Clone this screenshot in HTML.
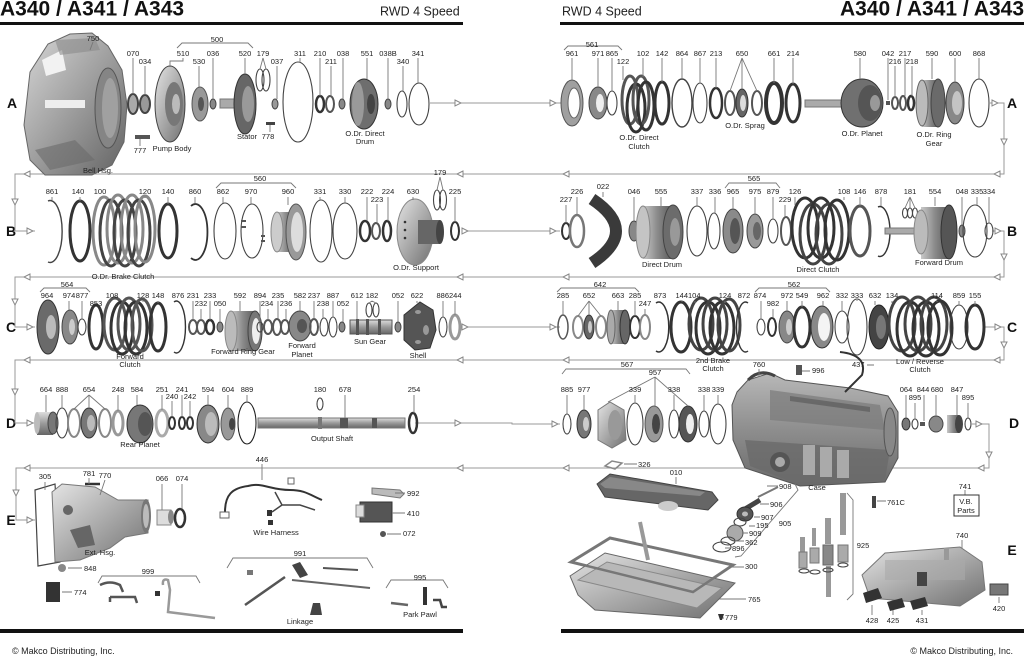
<!DOCTYPE html>
<html><head><meta charset="utf-8"><style>
html,body{margin:0;padding:0;background:#fff;}
svg{display:block;}
text{font-family:"Liberation Sans",Arial,sans-serif;fill:#222;}
.n{font-size:7.5px;text-anchor:middle;}
.s{font-size:7.5px;text-anchor:start;}
.L{font-size:14px;font-weight:bold;fill:#111;text-anchor:middle;}
.r{fill:none;stroke:#444;stroke-width:1.1;}
.r2{fill:none;stroke:#555;stroke-width:2;}
.d{fill:none;stroke:#333;stroke-width:3;}
.g{fill:none;stroke:#888;stroke-width:3;}
.ld{stroke:#777;stroke-width:0.9;fill:none;}
.fl{stroke:#999;stroke-width:1;fill:none;}
.ar{fill:#fff;stroke:#888;stroke-width:1;}
</style></head><body>
<svg width="1024" height="657" viewBox="0 0 1024 657">
<defs>
<linearGradient id="met" x1="0" y1="0" x2="1" y2="1"><stop offset="0" stop-color="#e4e4e4"/><stop offset=".5" stop-color="#aaa"/><stop offset="1" stop-color="#707070"/></linearGradient>
<linearGradient id="metb" x1="0" y1="0" x2="1" y2="1"><stop offset="0" stop-color="#d8d8d8"/><stop offset=".45" stop-color="#a4a4a4"/><stop offset="1" stop-color="#626262"/></linearGradient>
<linearGradient id="metc" x1="0" y1="0" x2="0" y2="1"><stop offset="0" stop-color="#b8b8b8"/><stop offset=".5" stop-color="#8e8e8e"/><stop offset="1" stop-color="#6a6a6a"/></linearGradient>
<linearGradient id="metv" x1="0" y1="0" x2="0" y2="1"><stop offset="0" stop-color="#ddd"/><stop offset=".5" stop-color="#9a9a9a"/><stop offset="1" stop-color="#666"/></linearGradient>
<linearGradient id="meth" x1="0" y1="0" x2="1" y2="0"><stop offset="0" stop-color="#c8c8c8"/><stop offset=".5" stop-color="#8a8a8a"/><stop offset="1" stop-color="#5a5a5a"/></linearGradient>
</defs>

<!-- HEADER / FOOTER -->
<text x="0" y="15.5" style="font-size:21px;font-weight:bold;fill:#111">A340 / A341 / A343</text>
<text x="380" y="15.5" style="font-size:12.5px">RWD 4 Speed</text>
<rect x="0" y="22" width="463" height="3" fill="#111"/>
<text x="562" y="15.5" style="font-size:12.5px">RWD 4 Speed</text>
<text x="1024" y="15.5" style="font-size:21px;font-weight:bold;fill:#111;text-anchor:end">A340 / A341 / A343</text>
<rect x="560" y="22" width="464" height="3" fill="#111"/>
<rect x="0" y="629" width="463" height="4" fill="#111"/>
<rect x="561" y="629" width="463" height="4" fill="#111"/>
<text x="12" y="654" style="font-size:9px">© Makco Distributing, Inc.</text>
<text x="1013" y="654" style="font-size:9px;text-anchor:end">© Makco Distributing, Inc.</text>

<!-- ROW LETTERS -->
<text class="L" x="12" y="108">A</text>
<text class="L" x="1012" y="108">A</text>
<text class="L" x="11" y="236">B</text>
<text class="L" x="1012" y="236">B</text>
<text class="L" x="11" y="332">C</text>
<text class="L" x="1012" y="332">C</text>
<text class="L" x="11" y="428">D</text>
<text class="L" x="1014" y="428">D</text>
<text class="L" x="11" y="525">E</text>
<text class="L" x="1012" y="555">E</text>

<!-- FLOW LINES -->
<path class="fl" d="M430,103H562 M990,103H1004V174H15V231H35 M462,231H560 M992,231H1004V277H15V327H35 M460,327H560 M985,327H1004V360H15V423H35 M415,423H512V424H560 M972,424H989V468H16V520H35"/>
<polygon class="ar" points="455,100 461,103 455,106"/>
<polygon class="ar" points="550,100 556,103 550,106"/>
<polygon class="ar" points="992,100 998,103 992,106"/>
<polygon class="ar" points="1001,139 1004,145 1007,139"/>
<polygon class="ar" points="1000,171 994,174 1000,177"/>
<polygon class="ar" points="569,171 563,174 569,177"/>
<polygon class="ar" points="463,171 457,174 463,177"/>
<polygon class="ar" points="30,171 24,174 30,177"/>
<polygon class="ar" points="12,199 15,205 18,199"/>
<polygon class="ar" points="27,228 33,231 27,234"/>
<polygon class="ar" points="462,228 468,231 462,234"/>
<polygon class="ar" points="550,228 556,231 550,234"/>
<polygon class="ar" points="995,228 1001,231 995,234"/>
<polygon class="ar" points="1001,254 1004,260 1007,254"/>
<polygon class="ar" points="1000,274 994,277 1000,280"/>
<polygon class="ar" points="569,274 563,277 569,280"/>
<polygon class="ar" points="463,274 457,277 463,280"/>
<polygon class="ar" points="30,274 24,277 30,280"/>
<polygon class="ar" points="12,299 15,305 18,299"/>
<polygon class="ar" points="27,324 33,327 27,330"/>
<polygon class="ar" points="462,324 468,327 462,330"/>
<polygon class="ar" points="550,324 556,327 550,330"/>
<polygon class="ar" points="995,324 1001,327 995,330"/>
<polygon class="ar" points="1001,342 1004,348 1007,342"/>
<polygon class="ar" points="1000,357 994,360 1000,363"/>
<polygon class="ar" points="569,357 563,360 569,363"/>
<polygon class="ar" points="463,357 457,360 463,363"/>
<polygon class="ar" points="30,357 24,360 30,363"/>
<polygon class="ar" points="12,389 15,395 18,389"/>
<polygon class="ar" points="27,420 33,423 27,426"/>
<polygon class="ar" points="455,420 461,423 455,426"/>
<polygon class="ar" points="552,421 558,424 552,427"/>
<polygon class="ar" points="976,421 982,424 976,427"/>
<polygon class="ar" points="986,452 989,458 992,452"/>
<polygon class="ar" points="984,465 978,468 984,471"/>
<polygon class="ar" points="569,465 563,468 569,471"/>
<polygon class="ar" points="463,465 457,468 463,471"/>
<polygon class="ar" points="30,465 24,468 30,471"/>
<polygon class="ar" points="13,490 16,496 19,490"/>
<polygon class="ar" points="27,517 33,520 27,523"/>

<!-- ================= ROW A LEFT ================= -->
<path d="M30,72 L48,44 L70,34 L92,33 L108,46 L122,70 L127,105 L124,142 L112,165 L92,175 L45,175 L30,160 L24,125 Z" fill="url(#metb)" stroke="#666"/>
<ellipse cx="108" cy="108" rx="13" ry="40" fill="#858585" stroke="#555"/>
<ellipse cx="110" cy="108" rx="8" ry="30" fill="#a0a0a0"/>
<path d="M42,60 L62,50 L66,70 L46,76 Z" fill="#f2f2f2"/>
<rect x="45" y="100" width="40" height="8" fill="#eee"/>
<path d="M55,40 L95,38 L100,50 L60,55 Z" fill="#8a8a8a" opacity=".6"/>
<path d="M35,150 L75,140 L95,160 L50,170 Z" fill="#6a6a6a" opacity=".6"/>
<ellipse cx="133" cy="104" rx="5" ry="10" fill="#aaa" stroke="#444" stroke-width="2"/>
<ellipse cx="145" cy="104" rx="5" ry="9" fill="#999" stroke="#444" stroke-width="2"/>
<ellipse cx="170" cy="104" rx="15" ry="38" fill="url(#met)" stroke="#444"/>
<ellipse cx="174" cy="104" rx="9" ry="22" fill="#777"/>
<ellipse cx="176" cy="104" rx="4" ry="10" fill="#bbb"/>
<ellipse cx="200" cy="104" rx="8" ry="17" fill="#999" stroke="#555"/>
<ellipse cx="201" cy="104" rx="3" ry="7" fill="#555"/>
<ellipse cx="213" cy="104" rx="3" ry="5" fill="#888" stroke="#444"/>
<rect x="220" y="99" width="18" height="9" fill="#aaa" stroke="#777"/>
<ellipse cx="245" cy="104" rx="11" ry="30" fill="#666" stroke="#333"/>
<ellipse cx="248" cy="104" rx="6" ry="18" fill="#999"/>
<rect x="135" y="135" width="15" height="4" fill="#555"/>
<rect x="266" y="122" width="9" height="3" fill="#444"/>
<ellipse cx="260" cy="80" rx="4" ry="11" class="r"/>
<ellipse cx="266" cy="80" rx="4" ry="11" class="r"/>
<ellipse cx="275" cy="104" rx="3" ry="5" fill="#999" stroke="#444"/>
<ellipse cx="298" cy="102" rx="15" ry="40" class="r"/>
<ellipse cx="320" cy="104" rx="4" ry="8" class="d" style="stroke-width:2.5"/>
<ellipse cx="330" cy="104" rx="4" ry="8" class="r2"/>
<ellipse cx="342" cy="104" rx="3" ry="5" fill="#888" stroke="#444"/>
<ellipse cx="364" cy="104" rx="14" ry="25" fill="#6e6e6e" stroke="#333"/>
<ellipse cx="358" cy="104" rx="6" ry="22" fill="#9a9a9a"/>
<ellipse cx="371" cy="104" rx="4" ry="10" fill="#444"/>
<ellipse cx="388" cy="104" rx="3" ry="5" fill="#888" stroke="#444"/>
<ellipse cx="402" cy="104" rx="5" ry="13" class="r"/>
<ellipse cx="419" cy="104" rx="10" ry="21" class="r"/>

<path class="ld" d="M93,42L90,50 M177,48L182,43H248L253,48 M133,58V94 M145,66V95 M183,58V61H170V67 M199,66V87 M213,58V99 M245,58V74 M263,58L260,69 M263,58L266,69 M277,66V99 M300,58V62 M320,58V96 M331,66V96 M343,58V99 M367,58V79 M388,58V99 M403,66V91 M418,58V83 M140,146V139 M270,132V125"/>
<text class="n" x="93" y="41">750</text>
<text class="n" x="217" y="42">500</text>
<text class="n" x="133" y="56">070</text>
<text class="n" x="145" y="64">034</text>
<text class="n" x="183" y="56">510</text>
<text class="n" x="199" y="64">530</text>
<text class="n" x="213" y="56">036</text>
<text class="n" x="245" y="56">520</text>
<text class="n" x="263" y="56">179</text>
<text class="n" x="277" y="64">037</text>
<text class="n" x="300" y="56">311</text>
<text class="n" x="320" y="56">210</text>
<text class="n" x="331" y="64">211</text>
<text class="n" x="343" y="56">038</text>
<text class="n" x="367" y="56">551</text>
<text class="n" x="388" y="56">038B</text>
<text class="n" x="403" y="64">340</text>
<text class="n" x="418" y="56">341</text>
<text class="n" x="140" y="153">777</text>
<text class="n" x="172" y="151">Pump Body</text>
<text class="n" x="247" y="139">Stator</text>
<text class="n" x="268" y="139">778</text>
<text class="n" x="365" y="136">O.Dr. Direct</text>
<text class="n" x="365" y="144">Drum</text>
<text class="n" x="98" y="173">Bell Hsg.</text>

<!-- ================= ROW A RIGHT ================= -->
<ellipse cx="572" cy="103" rx="11" ry="23" fill="#a0a0a0" stroke="#555"/>
<ellipse cx="574" cy="103" rx="6" ry="15" fill="#fff" stroke="#666"/>
<ellipse cx="598" cy="103" rx="9" ry="16" fill="#888" stroke="#444"/>
<ellipse cx="600" cy="103" rx="4" ry="9" fill="#eee"/>
<ellipse cx="612" cy="103" rx="5" ry="12" class="r"/>
<ellipse cx="630" cy="100" rx="8" ry="24" class="d" style="stroke:#555"/>
<ellipse cx="636" cy="108" rx="9" ry="24" class="d"/>
<ellipse cx="641" cy="100" rx="8" ry="24" class="d" style="stroke:#555"/>
<ellipse cx="646" cy="106" rx="8" ry="24" class="d"/>
<ellipse cx="662" cy="103" rx="7" ry="21" class="d"/>
<ellipse cx="682" cy="103" rx="10" ry="24" class="r" style="stroke-width:1.4"/>
<ellipse cx="700" cy="103" rx="7" ry="20" class="r"/>
<ellipse cx="716" cy="103" rx="6" ry="15" class="d" style="stroke-width:2.5"/>
<ellipse cx="730" cy="103" rx="5" ry="12" class="r2"/>
<ellipse cx="742" cy="103" rx="6" ry="14" fill="#666" stroke="#333"/>
<ellipse cx="743" cy="103" rx="3" ry="8" fill="#ddd"/>
<ellipse cx="757" cy="103" rx="5" ry="12" class="r2"/>
<ellipse cx="774" cy="103" rx="8" ry="20" class="d" style="stroke-width:4"/>
<ellipse cx="793" cy="103" rx="7" ry="19" class="d"/>
<rect x="805" y="100" width="37" height="7" fill="#aaa" stroke="#777"/>
<ellipse cx="862" cy="103" rx="21" ry="24" fill="#707070" stroke="#333"/>
<ellipse cx="870" cy="103" rx="12" ry="18" fill="#555"/>
<ellipse cx="875" cy="103" rx="5" ry="8" fill="#999"/>
<rect x="886" y="101" width="4" height="4" fill="#555"/>
<ellipse cx="895" cy="103" rx="3" ry="6" class="r2"/>
<ellipse cx="903" cy="103" rx="3" ry="7" class="r2"/>
<ellipse cx="911" cy="103" rx="3" ry="7" class="d" style="stroke-width:2.5"/>
<rect x="922" y="80" width="16" height="47" fill="url(#meth)"/>
<ellipse cx="922" cy="103" rx="6" ry="23" fill="#bbb" stroke="#666"/>
<ellipse cx="938" cy="103" rx="7" ry="24" fill="#6a6a6a" stroke="#444"/>
<ellipse cx="955" cy="103" rx="9" ry="21" fill="#888" stroke="#444"/>
<ellipse cx="957" cy="103" rx="5" ry="12" fill="#c4c4c4"/>
<ellipse cx="979" cy="103" rx="10" ry="24" class="r"/>

<path class="ld" d="M564,50L568,46H618L622,50 M572,58V80 M598,58V87 M612,58V91 M623,66V80 M643,58V77 M662,58V82 M682,58V79 M700,58V83 M716,58V88 M742,58L730,91 M742,58V89 M742,58L757,91 M774,58V83 M793,58V84 M860,58V79 M888,58V100 M895,66V97 M905,58V96 M912,66V96 M932,58V79 M955,58V82 M979,58V79"/>
<text class="n" x="592" y="47">561</text>
<text class="n" x="572" y="56">961</text>
<text class="n" x="598" y="56">971</text>
<text class="n" x="612" y="56">865</text>
<text class="n" x="623" y="64">122</text>
<text class="n" x="643" y="56">102</text>
<text class="n" x="662" y="56">142</text>
<text class="n" x="682" y="56">864</text>
<text class="n" x="700" y="56">867</text>
<text class="n" x="716" y="56">213</text>
<text class="n" x="742" y="56">650</text>
<text class="n" x="774" y="56">661</text>
<text class="n" x="793" y="56">214</text>
<text class="n" x="860" y="56">580</text>
<text class="n" x="888" y="56">042</text>
<text class="n" x="895" y="64">216</text>
<text class="n" x="905" y="56">217</text>
<text class="n" x="912" y="64">218</text>
<text class="n" x="932" y="56">590</text>
<text class="n" x="955" y="56">600</text>
<text class="n" x="979" y="56">868</text>
<text class="n" x="639" y="140">O.Dr. Direct</text>
<text class="n" x="639" y="149">Clutch</text>
<text class="n" x="745" y="128">O.Dr. Sprag</text>
<text class="n" x="862" y="136">O.Dr. Planet</text>
<text class="n" x="934" y="137">O.Dr. Ring</text>
<text class="n" x="934" y="146">Gear</text>

<!-- ================= ROW B LEFT ================= -->
<path d="M48,201 A12,31 0 1 1 48,262" class="r" style="stroke-width:1.4"/>
<ellipse cx="80" cy="231" rx="10" ry="30" class="d"/>
<ellipse cx="104" cy="231" rx="11" ry="34" class="g"/>
<ellipse cx="111" cy="233" rx="11" ry="33" class="d" style="stroke:#444"/>
<ellipse cx="118" cy="229" rx="11" ry="34" class="g"/>
<ellipse cx="125" cy="233" rx="11" ry="33" class="d" style="stroke:#444"/>
<ellipse cx="132" cy="229" rx="11" ry="34" class="g"/>
<ellipse cx="139" cy="233" rx="11" ry="33" class="d" style="stroke:#444"/>
<ellipse cx="145" cy="229" rx="10" ry="33" class="g"/>
<ellipse cx="168" cy="231" rx="9" ry="27" class="d"/>
<path d="M191,206 A12,28 0 1 1 191,258" class="r" style="stroke-width:1.8;stroke:#333"/>
<ellipse cx="225" cy="231" rx="11" ry="28" class="r"/>
<ellipse cx="252" cy="231" rx="11" ry="27" class="r"/>
<rect x="241" y="220" width="5" height="2" fill="#555"/><rect x="241" y="226" width="5" height="2" fill="#555"/><rect x="261" y="235" width="4" height="2" fill="#555"/><rect x="261" y="240" width="4" height="2" fill="#555"/>
<rect x="277" y="212" width="18" height="40" fill="url(#meth)"/>
<ellipse cx="277" cy="232" rx="6" ry="20" fill="#ccc" stroke="#888"/>
<ellipse cx="296" cy="232" rx="10" ry="28" fill="#999" stroke="#555"/>
<ellipse cx="297" cy="232" rx="6" ry="20" fill="#ddd"/>
<ellipse cx="321" cy="231" rx="11" ry="31" class="r"/>
<ellipse cx="345" cy="231" rx="12" ry="28" class="r"/>
<ellipse cx="365" cy="231" rx="5" ry="10" class="d" style="stroke-width:2.5"/>
<ellipse cx="376" cy="231" rx="4" ry="8" class="r2"/>
<ellipse cx="387" cy="231" rx="4" ry="10" class="d" style="stroke-width:2.5"/>
<ellipse cx="415" cy="232" rx="18" ry="33" fill="url(#met)" stroke="#888"/>
<rect x="418" y="220" width="22" height="24" fill="#666"/>
<ellipse cx="440" cy="232" rx="4" ry="12" fill="#444"/>
<circle cx="405" cy="222" r="1.3" fill="#333"/><circle cx="405" cy="230" r="1.3" fill="#333"/><circle cx="405" cy="238" r="1.3" fill="#333"/>
<ellipse cx="437" cy="200" rx="3.5" ry="10" class="r"/>
<ellipse cx="443" cy="200" rx="3.5" ry="10" class="r"/>
<ellipse cx="455" cy="231" rx="4" ry="9" class="d" style="stroke-width:2"/>

<path class="ld" d="M216,188L221,183H291L296,188 M52,197V200 M80,197V201 M100,197V198 M145,197V198 M168,197V204 M195,197V203 M223,197V203 M251,197V204 M288,197V205 M320,197V200 M345,197V203 M367,197V221 M377,204V223 M388,197V221 M413,197V200 M440,177L437,190 M440,177L443,190 M455,197V222"/>
<text class="n" x="260" y="181">560</text>
<text class="n" x="52" y="194">861</text>
<text class="n" x="78" y="194">140</text>
<text class="n" x="100" y="194">100</text>
<text class="n" x="145" y="194">120</text>
<text class="n" x="168" y="194">140</text>
<text class="n" x="195" y="194">860</text>
<text class="n" x="223" y="194">862</text>
<text class="n" x="251" y="194">970</text>
<text class="n" x="288" y="194">960</text>
<text class="n" x="320" y="194">331</text>
<text class="n" x="345" y="194">330</text>
<text class="n" x="367" y="194">222</text>
<text class="n" x="377" y="202">223</text>
<text class="n" x="388" y="194">224</text>
<text class="n" x="413" y="194">630</text>
<text class="n" x="440" y="175">179</text>
<text class="n" x="455" y="194">225</text>
<text class="n" x="123" y="279">O.Dr. Brake Clutch</text>
<text class="n" x="416" y="270">O.Dr. Support</text>

<!-- ================= ROW B RIGHT ================= -->
<ellipse cx="566" cy="231" rx="4" ry="8" class="d" style="stroke-width:2"/>
<ellipse cx="577" cy="231" rx="7" ry="16" class="g" style="stroke:#777;stroke-width:2.5"/>
<path d="M592,199 Q640,231 592,263" fill="none" stroke="#3a3a3a" stroke-width="12"/>
<ellipse cx="634" cy="231" rx="5" ry="10" fill="#888" stroke="#444"/>
<rect x="643" y="206" width="29" height="53" fill="url(#meth)"/>
<ellipse cx="643" cy="232" rx="7" ry="26" fill="#c4c4c4" stroke="#888"/>
<ellipse cx="673" cy="232" rx="10" ry="27" fill="#6c6c6c" stroke="#444"/>
<ellipse cx="675" cy="232" rx="5" ry="14" fill="#999"/>
<ellipse cx="697" cy="231" rx="10" ry="25" class="r"/>
<ellipse cx="714" cy="231" rx="6" ry="18" class="r"/>
<ellipse cx="733" cy="231" rx="10" ry="22" fill="#8a8a8a" stroke="#444"/>
<ellipse cx="735" cy="231" rx="5" ry="13" fill="#555"/>
<ellipse cx="755" cy="231" rx="8" ry="17" fill="#999" stroke="#444"/>
<ellipse cx="757" cy="231" rx="4" ry="9" fill="#666"/>
<ellipse cx="773" cy="231" rx="5" ry="12" class="r"/>
<ellipse cx="786" cy="231" rx="5" ry="14" class="r2"/>
<ellipse cx="805" cy="228" rx="13" ry="30" class="d"/>
<ellipse cx="813" cy="234" rx="13" ry="30" class="d" style="stroke:#444"/>
<ellipse cx="821" cy="228" rx="13" ry="30" class="d"/>
<ellipse cx="829" cy="234" rx="13" ry="30" class="d" style="stroke:#444"/>
<ellipse cx="837" cy="230" rx="12" ry="30" class="d"/>
<ellipse cx="860" cy="231" rx="10" ry="25" class="d" style="stroke:#555"/>
<path d="M878,207 A10,25 0 1 1 878,256" class="r" style="stroke-width:1.4;stroke:#333"/>
<ellipse cx="905" cy="213" rx="2.5" ry="5" class="r"/><ellipse cx="910" cy="213" rx="2.5" ry="5" class="r"/><ellipse cx="915" cy="213" rx="2.5" ry="5" class="r"/>
<rect x="885" y="228" width="37" height="6" fill="#aaa" stroke="#777"/>
<rect x="921" y="207" width="28" height="52" fill="url(#meth)"/>
<ellipse cx="921" cy="232" rx="7" ry="22" fill="#bbb" stroke="#888"/>
<ellipse cx="949" cy="232" rx="8" ry="27" fill="#555" stroke="#333"/>
<ellipse cx="962" cy="231" rx="3" ry="6" fill="#888" stroke="#444"/>
<ellipse cx="975" cy="231" rx="12" ry="26" class="r"/>
<ellipse cx="989" cy="231" rx="4" ry="8" class="r"/>

<path class="ld" d="M725,188L729,183H776L780,188 M566,205V223 M577,197V215 M603,192V197 M634,197V221 M661,197V206 M697,197V206 M715,197V213 M733,197V209 M755,197V214 M773,197V219 M785,205V217 M795,197V205 M844,197V200 M860,197V206 M881,197V206 M910,197L905,208 M910,197V208 M910,197L915,208 M935,197V206 M962,197V225 M977,197V205 M989,197V223"/>
<text class="n" x="754" y="181">565</text>
<text class="n" x="566" y="202">227</text>
<text class="n" x="577" y="194">226</text>
<text class="n" x="603" y="189">022</text>
<text class="n" x="634" y="194">046</text>
<text class="n" x="661" y="194">555</text>
<text class="n" x="697" y="194">337</text>
<text class="n" x="715" y="194">336</text>
<text class="n" x="733" y="194">965</text>
<text class="n" x="755" y="194">975</text>
<text class="n" x="773" y="194">879</text>
<text class="n" x="785" y="202">229</text>
<text class="n" x="795" y="194">126</text>
<text class="n" x="844" y="194">108</text>
<text class="n" x="860" y="194">146</text>
<text class="n" x="881" y="194">878</text>
<text class="n" x="910" y="194">181</text>
<text class="n" x="935" y="194">554</text>
<text class="n" x="962" y="194">048</text>
<text class="n" x="977" y="194">335</text>
<text class="n" x="989" y="194">334</text>
<text class="n" x="662" y="267">Direct Drum</text>
<text class="n" x="818" y="272">Direct Clutch</text>
<text class="n" x="939" y="265">Forward Drum</text>

<!-- ================= ROW C LEFT ================= -->
<ellipse cx="48" cy="327" rx="11" ry="27" fill="#6a6a6a" stroke="#333"/>
<ellipse cx="51" cy="327" rx="5" ry="12" fill="#bbb"/>
<ellipse cx="70" cy="327" rx="8" ry="17" fill="#888" stroke="#444"/>
<ellipse cx="72" cy="327" rx="3" ry="8" fill="#ccc"/>
<ellipse cx="82" cy="327" rx="4" ry="8" class="r"/>
<ellipse cx="96" cy="327" rx="7" ry="22" class="d"/>
<ellipse cx="115" cy="324" rx="11" ry="26" class="d" style="stroke:#555"/>
<ellipse cx="122" cy="328" rx="11" ry="26" class="d"/>
<ellipse cx="129" cy="324" rx="11" ry="26" class="d" style="stroke:#555"/>
<ellipse cx="136" cy="328" rx="11" ry="26" class="d"/>
<ellipse cx="142" cy="325" rx="10" ry="26" class="d" style="stroke:#555"/>
<ellipse cx="158" cy="327" rx="8" ry="24" class="d"/>
<path d="M174,302 A9,26 0 1 1 174,352" class="r" style="stroke-width:1.4;stroke:#333"/>
<ellipse cx="193" cy="327" rx="4" ry="7" class="r2"/>
<ellipse cx="201" cy="327" rx="4" ry="7" class="r2"/>
<ellipse cx="210" cy="327" rx="4" ry="7" class="d" style="stroke-width:2.5"/>
<ellipse cx="220" cy="327" rx="3" ry="5" fill="#888" stroke="#444"/>
<rect x="231" y="311" width="24" height="40" fill="url(#meth)"/>
<ellipse cx="231" cy="331" rx="6" ry="20" fill="#bbb" stroke="#888"/>
<ellipse cx="255" cy="331" rx="7" ry="20" fill="#777" stroke="#444"/>
<ellipse cx="256" cy="331" rx="4" ry="13" fill="#eee"/>
<ellipse cx="260" cy="327" rx="3" ry="5" class="r"/>
<ellipse cx="268" cy="327" rx="4" ry="7" class="r2"/>
<ellipse cx="277" cy="327" rx="4" ry="8" class="r2"/>
<ellipse cx="285" cy="327" rx="4" ry="7" class="r2"/>
<ellipse cx="300" cy="326" rx="11" ry="15" fill="#888" stroke="#444"/>
<ellipse cx="302" cy="326" rx="5" ry="7" fill="#555"/>
<ellipse cx="314" cy="327" rx="4" ry="8" class="r2"/>
<ellipse cx="324" cy="327" rx="4" ry="9" class="r"/>
<ellipse cx="333" cy="327" rx="4" ry="10" class="r"/>
<ellipse cx="342" cy="327" rx="3" ry="5" fill="#888" stroke="#444"/>
<rect x="350" y="320" width="42" height="14" fill="url(#metv)" stroke="#555"/>
<rect x="356" y="319" width="3" height="16" fill="#555"/><rect x="366" y="319" width="3" height="16" fill="#555"/><rect x="378" y="319" width="3" height="16" fill="#555"/>
<ellipse cx="369" cy="310" rx="3" ry="7" class="r"/>
<ellipse cx="376" cy="310" rx="3" ry="7" class="r"/>
<ellipse cx="398" cy="327" rx="3" ry="5" fill="#888" stroke="#444"/>
<path d="M404,315 L420,302 L433,310 L436,330 L430,348 L415,350 L404,340 Z" fill="#555" stroke="#333"/>
<ellipse cx="418" cy="312" rx="3" ry="2" fill="#999"/><ellipse cx="426" cy="330" rx="3" ry="5" fill="#999"/><ellipse cx="418" cy="342" rx="3" ry="2" fill="#999"/>
<ellipse cx="443" cy="327" rx="4" ry="10" class="r"/>
<ellipse cx="455" cy="327" rx="5" ry="12" class="g" style="stroke:#999"/>

<path class="ld" d="M40,292L44,288H86L90,292 M47,301V302 M69,301V310 M82,301V319 M108,301V302 M143,301V302 M158,301V303 M193,301V320 M201,309V320 M210,301V320 M220,309V322 M240,301V311 M260,301V322 M268,309V320 M278,301V319 M286,309V320 M300,301V311 M314,301V319 M323,309V318 M333,301V317 M343,309V322 M357,301V319 M372,301L369,303 M372,301L376,303 M398,301V322 M417,301V303 M443,301V317 M455,301V315"/>
<text class="n" x="67" y="287">564</text>
<text class="n" x="47" y="298">964</text>
<text class="n" x="69" y="298">974</text>
<text class="n" x="82" y="298">877</text>
<text class="n" x="96" y="306">853</text>
<text class="n" x="112" y="298">108</text>
<text class="n" x="143" y="298">128</text>
<text class="n" x="158" y="298">148</text>
<text class="n" x="178" y="298">876</text>
<text class="n" x="193" y="298">231</text>
<text class="n" x="201" y="306">232</text>
<text class="n" x="210" y="298">233</text>
<text class="n" x="220" y="306">050</text>
<text class="n" x="240" y="298">592</text>
<text class="n" x="260" y="298">894</text>
<text class="n" x="267" y="306">234</text>
<text class="n" x="278" y="298">235</text>
<text class="n" x="286" y="306">236</text>
<text class="n" x="300" y="298">582</text>
<text class="n" x="314" y="298">237</text>
<text class="n" x="323" y="306">238</text>
<text class="n" x="333" y="298">887</text>
<text class="n" x="343" y="306">052</text>
<text class="n" x="357" y="298">612</text>
<text class="n" x="372" y="298">182</text>
<text class="n" x="398" y="298">052</text>
<text class="n" x="417" y="298">622</text>
<text class="n" x="449" y="298">886244</text>
<text class="n" x="130" y="359">Forward</text>
<text class="n" x="130" y="367">Clutch</text>
<text class="n" x="243" y="354">Forward Ring Gear</text>
<text class="n" x="302" y="348">Forward</text>
<text class="n" x="302" y="357">Planet</text>
<text class="n" x="370" y="344">Sun Gear</text>
<text class="n" x="418" y="358">Shell</text>

<!-- ================= ROW C RIGHT ================= -->
<ellipse cx="563" cy="327" rx="5" ry="12" class="r2" style="stroke-width:1.5"/>
<ellipse cx="578" cy="327" rx="5" ry="11" class="r2" style="stroke:#888"/>
<ellipse cx="589" cy="327" rx="5" ry="12" fill="#666" stroke="#333"/>
<ellipse cx="590" cy="327" rx="2" ry="6" fill="#ccc"/>
<ellipse cx="601" cy="327" rx="5" ry="11" class="r2" style="stroke:#888"/>
<rect x="611" y="310" width="14" height="34" fill="url(#meth)"/>
<ellipse cx="611" cy="327" rx="4" ry="17" fill="#aaa" stroke="#666"/>
<ellipse cx="625" cy="327" rx="5" ry="17" fill="#666" stroke="#333"/>
<ellipse cx="635" cy="327" rx="5" ry="11" class="r2" style="stroke:#333"/>
<ellipse cx="645" cy="327" rx="5" ry="12" class="r2" style="stroke:#888"/>
<path d="M656,303 A10,25 0 1 1 656,351" class="r" style="stroke-width:1.5;stroke:#333"/>
<ellipse cx="681" cy="327" rx="10" ry="25" class="d"/>
<ellipse cx="701" cy="324" rx="12" ry="26" class="d" style="stroke:#444"/>
<ellipse cx="708" cy="328" rx="12" ry="26" class="d"/>
<ellipse cx="715" cy="324" rx="12" ry="26" class="d" style="stroke:#444"/>
<ellipse cx="722" cy="328" rx="12" ry="26" class="d"/>
<ellipse cx="729" cy="325" rx="11" ry="26" class="d" style="stroke:#444"/>
<path d="M748,303 A9,25 0 1 0 748,351" class="r" style="stroke-width:1.4;stroke:#333"/>
<ellipse cx="761" cy="327" rx="4" ry="8" class="r"/>
<ellipse cx="772" cy="327" rx="4" ry="9" class="d" style="stroke-width:2"/>
<ellipse cx="787" cy="327" rx="8" ry="16" fill="#888" stroke="#444"/>
<ellipse cx="789" cy="327" rx="3" ry="8" fill="#ccc"/>
<ellipse cx="802" cy="327" rx="8" ry="20" class="d"/>
<ellipse cx="822" cy="327" rx="11" ry="21" fill="#888" stroke="#333"/>
<ellipse cx="824" cy="327" rx="6" ry="14" fill="#f4f4f4"/>
<ellipse cx="842" cy="327" rx="7" ry="16" class="r"/>
<ellipse cx="857" cy="327" rx="10" ry="28" class="r"/>
<ellipse cx="879" cy="327" rx="10" ry="22" fill="#444" stroke="#222"/>
<ellipse cx="881" cy="327" rx="5" ry="12" fill="#777"/>
<ellipse cx="902" cy="324" rx="13" ry="27" class="d" style="stroke:#444"/>
<ellipse cx="910" cy="329" rx="13" ry="27" class="d"/>
<ellipse cx="918" cy="324" rx="13" ry="27" class="d" style="stroke:#444"/>
<ellipse cx="926" cy="329" rx="13" ry="27" class="d"/>
<ellipse cx="934" cy="324" rx="13" ry="27" class="d" style="stroke:#444"/>
<ellipse cx="940" cy="328" rx="12" ry="27" class="d"/>
<ellipse cx="959" cy="327" rx="9" ry="22" class="r"/>
<ellipse cx="975" cy="327" rx="9" ry="22" class="d"/>

<path class="ld" d="M557,292L561,288H635L639,292 M755,292L759,288H826L830,292 M563,301V315 M589,301L578,316 M589,301V315 M589,301L601,316 M618,301V310 M635,301V316 M645,309V315 M660,301V302 M682,301V302 M695,301V303 M725,301V303 M745,301V302 M761,301V319 M773,309V318 M787,301V311 M802,301V307 M823,301V306 M842,301V311 M857,301V300 M875,301V305 M892,301V303 M937,301V302 M959,301V305 M975,301V305"/>
<text class="n" x="600" y="287">642</text>
<text class="n" x="794" y="287">562</text>
<text class="n" x="563" y="298">285</text>
<text class="n" x="589" y="298">652</text>
<text class="n" x="618" y="298">663</text>
<text class="n" x="635" y="298">285</text>
<text class="n" x="645" y="306">247</text>
<text class="n" x="660" y="298">873</text>
<text class="n" x="688" y="298">144104</text>
<text class="n" x="725" y="298">124</text>
<text class="n" x="744" y="298">872</text>
<text class="n" x="760" y="298">874</text>
<text class="n" x="773" y="306">982</text>
<text class="n" x="787" y="298">972</text>
<text class="n" x="802" y="298">549</text>
<text class="n" x="823" y="298">962</text>
<text class="n" x="842" y="298">332</text>
<text class="n" x="857" y="298">333</text>
<text class="n" x="875" y="298">632</text>
<text class="n" x="892" y="298">134</text>
<text class="n" x="937" y="298">114</text>
<text class="n" x="959" y="298">859</text>
<text class="n" x="975" y="298">155</text>
<text class="n" x="713" y="363">2nd Brake</text>
<text class="n" x="713" y="371">Clutch</text>
<text class="n" x="920" y="364">Low / Reverse</text>
<text class="n" x="920" y="372">Clutch</text>

<!-- ================= ROW D LEFT ================= -->
<rect x="37" y="412" width="16" height="23" fill="url(#metv)"/>
<ellipse cx="37" cy="423" rx="3" ry="11" fill="#bbb"/>
<ellipse cx="53" cy="423" rx="5" ry="11" fill="#777" stroke="#444"/>
<ellipse cx="62" cy="423" rx="6" ry="15" class="r"/>
<ellipse cx="74" cy="423" rx="6" ry="14" class="r2" style="stroke:#888"/>
<ellipse cx="89" cy="423" rx="8" ry="15" fill="#777" stroke="#333"/>
<ellipse cx="91" cy="423" rx="4" ry="8" fill="#bbb"/>
<ellipse cx="105" cy="423" rx="6" ry="14" class="r2" style="stroke:#888"/>
<ellipse cx="118" cy="423" rx="5" ry="12" class="g" style="stroke:#999"/>
<ellipse cx="140" cy="424" rx="13" ry="19" fill="#777" stroke="#333"/>
<ellipse cx="145" cy="424" rx="7" ry="12" fill="#555"/>
<ellipse cx="162" cy="423" rx="6" ry="13" class="g" style="stroke:#aaa"/>
<ellipse cx="172" cy="423" rx="3" ry="6" class="d" style="stroke-width:2"/>
<ellipse cx="182" cy="423" rx="3" ry="6" class="d" style="stroke-width:2"/>
<ellipse cx="190" cy="423" rx="3" ry="6" class="d" style="stroke-width:2"/>
<ellipse cx="208" cy="424" rx="11" ry="19" fill="#888" stroke="#333"/>
<ellipse cx="211" cy="424" rx="6" ry="12" fill="#bbb"/>
<ellipse cx="228" cy="424" rx="7" ry="16" fill="#999" stroke="#555"/>
<ellipse cx="232" cy="424" rx="3" ry="6" fill="#444"/>
<ellipse cx="247" cy="423" rx="9" ry="21" class="r" style="stroke:#222"/>
<rect x="258" y="418" width="147" height="10" fill="url(#metv)" stroke="#777"/>
<rect x="318" y="417" width="4" height="12" fill="#777"/><rect x="340" y="418" width="8" height="10" fill="#555"/><rect x="372" y="418" width="5" height="10" fill="#555"/>
<ellipse cx="320" cy="404" rx="3" ry="6" class="r"/>
<ellipse cx="413" cy="423" rx="4" ry="10" class="d" style="stroke-width:2.5"/>

<path class="ld" d="M46,395V412 M62,395V408 M89,395L74,409 M89,395V408 M89,395L105,409 M118,395V411 M137,395V405 M162,395V410 M172,401V417 M182,395V417 M190,401V417 M208,395V405 M228,395V408 M247,395V402 M345,395V418 M414,395V413"/>
<text class="n" x="46" y="392">664</text>
<text class="n" x="62" y="392">888</text>
<text class="n" x="89" y="392">654</text>
<text class="n" x="118" y="392">248</text>
<text class="n" x="137" y="392">584</text>
<text class="n" x="162" y="392">251</text>
<text class="n" x="172" y="399">240</text>
<text class="n" x="182" y="392">241</text>
<text class="n" x="190" y="399">242</text>
<text class="n" x="208" y="392">594</text>
<text class="n" x="228" y="392">604</text>
<text class="n" x="247" y="392">889</text>
<text class="n" x="320" y="392">180</text>
<text class="n" x="345" y="392">678</text>
<text class="n" x="414" y="392">254</text>
<text class="n" x="140" y="447">Rear Planet</text>
<text class="n" x="332" y="441">Output Shaft</text>

<!-- ================= ROW D RIGHT ================= -->
<ellipse cx="567" cy="424" rx="4" ry="10" class="r"/>
<ellipse cx="584" cy="424" rx="7" ry="14" fill="#777" stroke="#333"/>
<ellipse cx="586" cy="424" rx="3" ry="7" fill="#ccc"/>
<path d="M598,410 L610,402 L624,410 L626,440 L612,448 L598,440 Z" fill="url(#met)" stroke="#777"/>
<ellipse cx="615" cy="425" rx="7" ry="15" fill="#999"/>
<ellipse cx="635" cy="424" rx="8" ry="21" class="r"/>
<ellipse cx="654" cy="424" rx="9" ry="18" fill="#999" stroke="#555"/>
<ellipse cx="656" cy="424" rx="4" ry="10" fill="#444"/>
<ellipse cx="674" cy="424" rx="5" ry="14" class="r"/>
<ellipse cx="688" cy="424" rx="9" ry="18" fill="#555" stroke="#333"/>
<ellipse cx="690" cy="424" rx="4" ry="10" fill="#eee"/>
<ellipse cx="704" cy="424" rx="5" ry="13" class="r"/>
<ellipse cx="718" cy="424" rx="8" ry="20" class="r"/>
<!-- case -->
<path d="M737,392 L748,380 L770,373 L785,380 L850,388 L888,396 L898,412 L898,458 L885,482 L800,486 L745,468 L733,440 L732,405 Z" fill="url(#metc)" stroke="#555"/>
<path d="M770,390 L880,405 L885,430 L770,420 Z" fill="#7a7a7a" opacity=".7"/>
<path d="M790,396 L870,407 L870,412 L790,401 Z" fill="#555" opacity=".6"/>
<path d="M745,440 L890,450 L885,480 L800,485 L750,466 Z" fill="#6a6a6a" opacity=".8"/>
<circle cx="780" cy="462" r="10" fill="#555"/><circle cx="780" cy="462" r="5" fill="#aaa"/>
<rect x="803" y="445" width="12" height="30" fill="#aaa"/><rect x="820" y="447" width="12" height="30" fill="#aaa"/><rect x="837" y="450" width="12" height="28" fill="#aaa"/>
<path d="M748,380 Q760,368 775,376" fill="none" stroke="#444" stroke-width="3"/>
<ellipse cx="890" cy="432" rx="6" ry="24" fill="#888" stroke="#555"/>
<rect x="796" y="365" width="6" height="10" fill="#555"/>
<path d="M840,352 Q868,355 862,375 L845,392" fill="none" stroke="#333" stroke-width="2"/>
<ellipse cx="906" cy="424" rx="4" ry="6" fill="#777" stroke="#333"/>
<ellipse cx="915" cy="424" rx="3" ry="5" class="r"/>
<rect x="920" y="422" width="5" height="4" fill="#555"/>
<ellipse cx="936" cy="424" rx="7" ry="8" fill="#888" stroke="#444"/>
<rect x="947" y="415" width="12" height="18" fill="url(#meth)"/>
<ellipse cx="959" cy="424" rx="4" ry="9" fill="#444"/>
<ellipse cx="968" cy="424" rx="3" ry="6" class="r"/>

<path class="ld" d="M562,374L566,369H686L690,374 M655,377L608,402 M655,377V406 M655,377L688,406 M567,395V414 M584,395V410 M635,395V403 M674,395V410 M704,395V411 M718,395V404 M759,369V377 M802,371H810 M867,365H874 M906,395V418 M915,403V419 M924,395V421 M936,395V416 M957,395V415 M968,403V418"/>
<text class="n" x="627" y="367">567</text>
<text class="n" x="655" y="375">957</text>
<text class="n" x="567" y="392">885</text>
<text class="n" x="584" y="392">977</text>
<text class="n" x="635" y="392">339</text>
<text class="n" x="674" y="392">338</text>
<text class="n" x="704" y="392">338</text>
<text class="n" x="718" y="392">339</text>
<text class="n" x="759" y="367">760</text>
<text class="s" x="812" y="373">996</text>
<text class="s" x="852" y="367">437</text>
<text class="n" x="906" y="392">064</text>
<text class="n" x="915" y="400">895</text>
<text class="n" x="923" y="392">844</text>
<text class="n" x="937" y="392">680</text>
<text class="n" x="957" y="392">847</text>
<text class="n" x="968" y="400">895</text>

<!-- ================= ROW E LEFT ================= -->
<path d="M35,490 L55,484 L60,562 L38,566 Z" fill="none" stroke="#444" stroke-width="1.2"/>
<path d="M52,492 L62,484 L95,487 L118,500 L148,500 L148,533 L125,537 L110,548 L80,560 L55,562 Z" fill="url(#met)" stroke="#777"/>
<ellipse cx="146" cy="516" rx="5" ry="17" fill="#777"/>
<ellipse cx="146" cy="516" rx="3" ry="12" fill="#bbb"/>
<circle cx="68" cy="510" r="5" fill="#666"/>
<path d="M70,530 L90,525 L95,545 L78,548 Z" fill="#666"/>
<line x1="85" y1="484" x2="100" y2="484" stroke="#333" stroke-width="2.5"/>
<rect x="157" y="510" width="14" height="15" fill="#ddd" stroke="#888"/>
<ellipse cx="171" cy="517" rx="3" ry="7" fill="#888"/>
<ellipse cx="180" cy="518" rx="5" ry="9" class="d" style="stroke-width:2.5"/>
<path d="M225,512 C225,495 232,488 248,486 C262,482 270,490 290,490 C305,490 310,495 322,500" fill="none" stroke="#333" stroke-width="2"/>
<path d="M275,492 L282,505 L300,505 L315,510 M282,505 L272,512" fill="none" stroke="#444" stroke-width="1.5"/>
<rect x="220" y="512" width="9" height="6" fill="#fff" stroke="#666"/>
<rect x="288" y="478" width="6" height="6" fill="#fff" stroke="#666"/>
<rect x="267" y="510" width="5" height="6" fill="#333"/>
<rect x="268" y="520" width="5" height="5" fill="#333"/>
<path d="M372,488 L400,490 L404,494 L400,498 L372,494 Z" fill="#bbb" stroke="#777"/>
<rect x="360" y="502" width="32" height="20" fill="#555" stroke="#333"/>
<rect x="356" y="505" width="8" height="12" fill="#ddd" stroke="#888"/>
<circle cx="383" cy="534" r="3" fill="#555"/>
<path class="ld" d="M395,493H405 M392,513H405 M387,534H401 M68,568H82 M62,592H72"/>
<circle cx="62" cy="568" r="4" fill="#888"/>
<rect x="46" y="582" width="14" height="20" fill="#333"/>
<path d="M100,585 Q110,580 120,585 L123,592 M110,597 L135,597 L137,603 M110,597 L110,602" fill="none" stroke="#555" stroke-width="2.5"/>
<path d="M163,585 Q162,578 168,580 L170,590 L168,612 L215,618" fill="none" stroke="#999" stroke-width="2.5"/>
<rect x="155" y="591" width="5" height="5" fill="#333"/>
<path d="M245,605 L285,577" stroke="#555" stroke-width="2.5"/>
<rect x="247" y="570" width="6" height="5" fill="#777"/>
<path d="M292,565 L300,562 L308,575 L300,578 Z" fill="#444"/>
<path d="M323,568 L358,570" stroke="#555" stroke-width="2"/>
<path d="M292,580 L370,588" stroke="#666" stroke-width="2"/>
<path d="M310,615 L313,603 L320,603 L322,615 Z" fill="#444"/>
<path d="M391,603 L408,605" stroke="#666" stroke-width="2.5"/>
<rect x="423" y="587" width="4" height="18" fill="#333"/>
<path d="M433,600 L440,600 L442,607 L447,607" fill="none" stroke="#444" stroke-width="2.5"/>
<path class="ld" d="M98,583L102,576H196L200,583 M227,568L233,558H367L373,568 M386,588L391,580H443L448,588 M45,482V490 M89,478V484 M105,480L100,495 M162,484V510 M182,484V509 M262,464V480"/>
<text class="n" x="45" y="479">305</text>
<text class="n" x="89" y="476">781</text>
<text class="n" x="105" y="478">770</text>
<text class="n" x="162" y="481">066</text>
<text class="n" x="182" y="481">074</text>
<text class="n" x="262" y="462">446</text>
<text class="s" x="407" y="496">992</text>
<text class="s" x="407" y="516">410</text>
<text class="s" x="403" y="536">072</text>
<text class="n" x="276" y="535">Wire Harness</text>
<text class="n" x="100" y="555">Ext. Hsg.</text>
<text class="n" x="300" y="556">991</text>
<text class="s" x="84" y="571">848</text>
<text class="n" x="148" y="574">999</text>
<text class="s" x="74" y="595">774</text>
<text class="n" x="420" y="580">995</text>
<text class="n" x="420" y="617">Park Pawl</text>
<text class="n" x="300" y="624">Linkage</text>

<!-- ================= ROW E RIGHT ================= -->
<path d="M605,466 L612,461 L622,463 L615,469 Z" fill="none" stroke="#888" stroke-width="1.5"/>
<polygon points="597,484 610,474 712,492 718,500 708,510 605,497" fill="#666" stroke="#444"/>
<polygon points="600,484 610,477 705,492 700,496 605,488" fill="#888"/>
<ellipse cx="668" cy="506" rx="10" ry="5" fill="#ccc"/>
<path d="M758,497 L778,487" stroke="#777" stroke-width="2"/>
<path d="M745,509 L760,500" stroke="#444" stroke-width="5"/>
<ellipse cx="745" cy="514" rx="8" ry="7" fill="#555" stroke="#333"/>
<ellipse cx="745" cy="514" rx="3" ry="2.5" fill="#bbb"/>
<ellipse cx="740" cy="522" rx="6" ry="4" class="r"/>
<ellipse cx="735" cy="533" rx="8" ry="8" fill="#aaa" stroke="#555"/>
<ellipse cx="728" cy="541" rx="7" ry="4" class="r"/>
<ellipse cx="722" cy="547" rx="9" ry="5" class="r"/>
<path class="ld" d="M795,484L798,490L741,556L735,557 M767,486H778 M760,504H769 M754,517H760 M749,526H755 M742,533H748 M735,541H744 M725,548H731 M732,567H744 M719,599H746 M720,618H724 M877,501H886 M624,464H637 M676,477V484 M965,490V495 M962,540V560 M999,603V597 M872,615V605 M893,615V610 M922,615V610"/>
<path d="M571,562 L610,538 L733,565 L693,592 Z" fill="none" stroke="#888" stroke-width="3"/>
<path d="M570,576 L605,553 L735,583 L700,618 L595,610 L578,595 Z" fill="url(#met)" stroke="#666"/>
<path d="M578,580 L607,562 L722,588 L697,608 Z" fill="#b8b8b8" stroke="#888"/>
<path d="M571,562 L610,538 L733,565 L693,592 Z" fill="none" stroke="#777" stroke-width="2.5"/>
<path d="M640,522 L648,560" stroke="#999" stroke-width="4"/>
<path d="M718,614 L724,614 L722,620 L720,620 Z" fill="#333"/>
<rect x="800" y="537" width="5" height="20" fill="#999"/><rect x="799" y="552" width="8" height="16" fill="#aaa" stroke="#777"/>
<rect x="812" y="528" width="4" height="18" fill="#999"/><rect x="810" y="548" width="9" height="15" fill="#aaa" stroke="#777"/>
<rect x="825" y="518" width="6" height="26" fill="#999"/><rect x="823" y="545" width="10" height="20" fill="#888" stroke="#666"/><rect x="826" y="566" width="5" height="31" fill="#999"/>
<rect x="840" y="493" width="6" height="42" fill="#999"/><rect x="838" y="545" width="10" height="17" fill="#aaa" stroke="#777"/>
<ellipse cx="804" cy="571" rx="5" ry="2" class="r"/><ellipse cx="815" cy="572" rx="5" ry="2" class="r"/><ellipse cx="828" cy="570" rx="5" ry="2" class="r"/><ellipse cx="843" cy="565" rx="5" ry="2" class="r"/>
<path class="ld" d="M847,493L853,500V594L847,600"/>
<rect x="872" y="496" width="4" height="12" fill="#444"/>
<rect x="954" y="495" width="25" height="21" fill="none" stroke="#333"/>
<polygon points="862,575 885,553 960,547 982,562 985,590 960,606 870,598" fill="url(#met)" stroke="#777"/>
<rect x="885" y="560" width="80" height="20" fill="#aaa" opacity=".6"/>
<rect x="917" y="572" width="10" height="14" fill="#444"/>
<rect x="944" y="548" width="5" height="12" fill="#999"/>
<polygon points="863,593 878,588 882,598 866,603" fill="#333"/>
<polygon points="887,602 902,598 905,607 890,611" fill="#333"/>
<polygon points="910,601 925,597 928,606 913,610" fill="#333"/>
<rect x="990" y="584" width="18" height="11" fill="#777" stroke="#444"/>
<text class="s" x="638" y="467">326</text>
<text class="n" x="676" y="475">010</text>
<text class="s" x="779" y="489">908</text>
<text class="n" x="817" y="490">Case</text>
<text class="s" x="770" y="507">906</text>
<text class="s" x="761" y="520">907</text>
<text class="n" x="785" y="526">905</text>
<text class="s" x="756" y="528">195</text>
<text class="s" x="749" y="536">909</text>
<text class="s" x="745" y="545">362</text>
<text class="s" x="732" y="551">896</text>
<text class="s" x="887" y="505">761C</text>
<text class="n" x="965" y="489">741</text>
<text class="n" x="966" y="504">V.B.</text>
<text class="n" x="966" y="513">Parts</text>
<text class="n" x="863" y="548">925</text>
<text class="n" x="962" y="538">740</text>
<text class="s" x="745" y="569">300</text>
<text class="s" x="748" y="602">765</text>
<text class="s" x="725" y="620">779</text>
<text class="n" x="999" y="611">420</text>
<text class="n" x="872" y="623">428</text>
<text class="n" x="893" y="623">425</text>
<text class="n" x="922" y="623">431</text>
</svg>
</body></html>
